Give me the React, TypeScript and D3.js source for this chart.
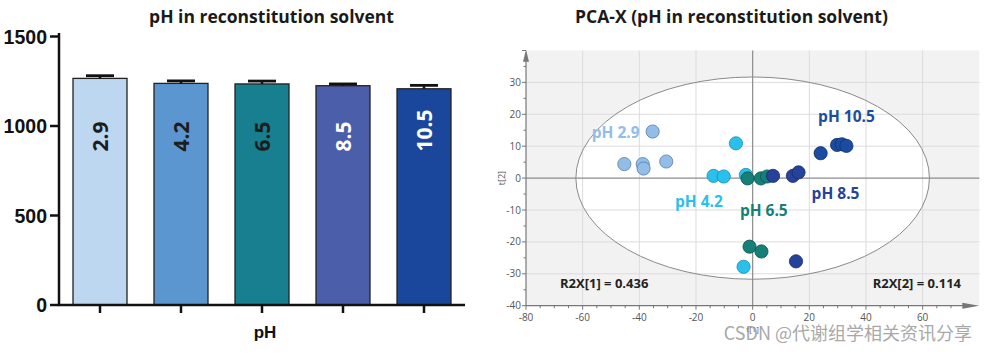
import React from 'react';
import { scaleBand, scaleLinear, range } from 'd3';

// bar chart data
const phLevels = ['2.9', '4.2', '6.5', '8.5', '10.5'];
const meanValues = [1266, 1238, 1235, 1225, 1208];
const errorValues = [15, 14, 16, 10, 19];
const barColors = ['#bcd7ef', '#5b96d1', '#177f8f', '#4a5ea9', '#1a479c'];
const labelColors = ['#1d1d1d', '#1d1d1d', '#1d1d1d', '#ffffff', '#ffffff'];
const barTicks = [0, 500, 1000, 1500];

// PCA scores (t[1], t[2])
const ph29 = [[-35.3, 14.6], [-45.3, 4.4], [-38.8, 4.4], [-38.5, 3.0], [-30.5, 5.2]];
const ph42 = [[-5.9, 10.9], [-13.8, 0.7], [-10.2, 0.5], [-2.4, 1.0], [-3.2, -27.8]];
const ph65 = [[-1.8, -0.1], [2.9, -0.1], [5.1, 0.5], [-1.1, -21.5], [3.1, -23.0]];
const ph85 = [[7.2, 0.7], [14.2, 0.7], [16.2, 1.8], [15.3, -26.1]];
const ph105 = [[24.0, 7.8], [29.8, 10.4], [31.5, 10.6], [33.1, 10.1]];
const pcaGroups = [
  { name: 'pH 2.9', pts: ph29, fill: '#92bde6', stroke: '#5a7fa8', lx: -56.8, ly: 14.4 },
  { name: 'pH 4.2', pts: ph42, fill: '#2ac0ee', stroke: '#1a8cb0', lx: -27.4, ly: -7.4 },
  { name: 'pH 6.5', pts: ph65, fill: '#157f78', stroke: '#0d5550', lx: -4.5, ly: -10.1 },
  { name: 'pH 8.5', pts: ph85, fill: '#26429a', stroke: '#162a6a', lx: 20.8, ly: -4.8 },
  { name: 'pH 10.5', pts: ph105, fill: '#1c4c9f', stroke: '#10306e', lx: 23.1, ly: 19.2 },
];
const pcaXTicks = [-80, -60, -40, -20, 0, 20, 40, 60];
const pcaYTicks = [-40, -30, -20, -10, 0, 10, 20, 30];

const BarPanel = () => {
  const x = scaleBand().domain(phLevels).range([59.5, 464.5]).paddingInner(1 / 3).paddingOuter(1 / 6);
  const y = scaleLinear().domain([0, 1500]).range([305, 36.5]);
  const bw = x.bandwidth();
  return (
    <g>
      <text x={271.5} y={22.5} textAnchor="middle" fontFamily="Open Sans" fontWeight="bold" fontSize={17.5} fill="#1a1a1a">
        pH in reconstitution solvent
      </text>
      {phLevels.map((c, i) => {
        const cx = x(c)! + bw / 2;
        return (
          <g key={c}>
            <rect x={x(c)} y={y(meanValues[i])} width={bw} height={y(0) - y(meanValues[i])} fill={barColors[i]} stroke="#222" strokeWidth={1.3} />
            <line x1={cx} x2={cx} y1={y(meanValues[i])} y2={y(meanValues[i] + errorValues[i])} stroke="#111" strokeWidth={2.5} />
            <line x1={cx - 14} x2={cx + 14} y1={y(meanValues[i] + errorValues[i])} y2={y(meanValues[i] + errorValues[i])} stroke="#111" strokeWidth={2.8} />
            <text transform={`translate(${cx},151.5) rotate(-90)`} dy="0.36em" fontFamily="Open Sans" fontWeight="bold" fontSize={21} fill={labelColors[i]}>
              {c}
            </text>
            <line x1={cx} x2={cx} y1={305} y2={313} stroke="#111" strokeWidth={2.5} />
          </g>
        );
      })}
      <line x1={59} x2={59} y1={33} y2={306} stroke="#111" strokeWidth={2.5} />
      <line x1={58} x2={465} y1={305} y2={305} stroke="#111" strokeWidth={2.5} />
      {barTicks.map(t => (
        <g key={t}>
          <line x1={50} x2={59} y1={y(t)} y2={y(t)} stroke="#111" strokeWidth={2.5} />
          <text x={47} y={y(t)} dy="0.36em" textAnchor="end" fontFamily="Liberation Sans" fontWeight="bold" fontSize={19.5} fill="#111">
            {t}
          </text>
        </g>
      ))}
      <text x={265} y={338} textAnchor="middle" fontFamily="Liberation Sans" fontWeight="bold" fontSize={17} fill="#111">
        pH
      </text>
    </g>
  );
};

const PcaPanel = () => {
  const x = scaleLinear().domain([-80, 80]).range([526, 979.3]);
  const y = scaleLinear().domain([-40, 40]).range([305.7, 50.5]);
  const minorX = range(-80, 76, 5);
  const minorY = range(-40, 41, 5);
  return (
    <g>
      <text x={731.5} y={22.5} textAnchor="middle" fontFamily="Open Sans" fontWeight="bold" fontSize={17.5} fill="#1a1a1a">
        PCA-X (pH in reconstitution solvent)
      </text>
      <rect x={x(-80)} y={y(40)} width={x(80) - x(-80)} height={y(-40) - y(40)} fill="#f2f2f2" />
      <ellipse cx={x(0)} cy={y(0)} rx={x(62.4) - x(0)} ry={y(0) - y(31.7)} fill="#ffffff" />
      {pcaXTicks.filter(t => t !== -80 && t !== 0).map(t => (
        <line key={'gx' + t} x1={x(t)} x2={x(t)} y1={y(40)} y2={y(-40)} stroke="#dcdcdc" strokeWidth={1} />
      ))}
      {pcaYTicks.filter(t => t !== -40 && t !== 0).map(t => (
        <line key={'gy' + t} x1={x(-80)} x2={x(80)} y1={y(t)} y2={y(t)} stroke="#dcdcdc" strokeWidth={1} />
      ))}
      <ellipse cx={x(0)} cy={y(0)} rx={x(62.4) - x(0)} ry={y(0) - y(31.7)} fill="none" stroke="#8a8a8a" strokeWidth={1} />
      <line x1={x(0)} x2={x(0)} y1={y(40)} y2={y(-40)} stroke="#8c8c8c" strokeWidth={1.2} />
      <line x1={x(-80)} x2={x(80)} y1={y(0)} y2={y(0)} stroke="#8c8c8c" strokeWidth={1.2} />
      {/* axes */}
      <line x1={x(-80)} x2={x(-80)} y1={y(-40)} y2={y(38)} stroke="#777" strokeWidth={1.2} />
      <path d={`M${x(-80) - 3},${y(36.5)} L${x(-80)},${y(40.3)} L${x(-80) + 3},${y(36.5)} Z`} fill="#777" />
      <line x1={x(-80)} x2={x(78)} y1={y(-40)} y2={y(-40)} stroke="#777" strokeWidth={1.2} />
      <path d={`M${x(74)},${y(-40) - 3} L${x(80)},${y(-40)} L${x(74)},${y(-40) + 3} Z`} fill="#777" />
      {minorX.map(t => (
        <line key={'mx' + t} x1={x(t)} x2={x(t)} y1={y(-40)} y2={y(-40) + (t % 20 === 0 ? 4 : 2.5)} stroke="#777" strokeWidth={1} />
      ))}
      {minorY.map(t => (
        <line key={'my' + t} x1={x(-80) - (t % 10 === 0 ? 4 : 2.5)} x2={x(-80)} y1={y(t)} y2={y(t)} stroke="#777" strokeWidth={1} />
      ))}
      {pcaXTicks.map(t => (
        <text key={'tx' + t} x={x(t)} y={317.5} dy="0.35em" textAnchor="middle" fontFamily="Open Sans" fontSize={10} fill="#555">
          {t}
        </text>
      ))}
      {pcaYTicks.map(t => (
        <text key={'ty' + t} x={521} y={y(t)} dy="0.35em" textAnchor="end" fontFamily="Open Sans" fontSize={10} fill="#555">
          {t}
        </text>
      ))}
      <text transform={`translate(502,${y(0)}) rotate(-90)`} dy="0.35em" textAnchor="middle" fontFamily="Open Sans" fontSize={9} fill="#555">
        t[2]
      </text>
      <text x={x(0)} y={329} dy="0.35em" textAnchor="middle" fontFamily="Open Sans" fontSize={8} fill="#555">
        t[1]
      </text>
      {pcaGroups.map(g => (
        <g key={g.name}>
          {g.pts.map((p, i) => (
            <circle key={i} cx={x(p[0])} cy={y(p[1])} r={6.6} fill={g.fill} stroke={g.stroke} strokeWidth={0.8} />
          ))}
          <text x={x(g.lx)} y={y(g.ly)} dy="0.35em" fontFamily="Open Sans" fontWeight="bold" fontSize={15.5} fill={g.fill}>
            {g.name}
          </text>
        </g>
      ))}
      <text x={560} y={283.5} dy="0.35em" fontFamily="Open Sans" fontWeight="bold" fontSize={13} fill="#222">
        R2X[1] = 0.436
      </text>
      <text x={961} y={283.5} dy="0.35em" textAnchor="end" fontFamily="Open Sans" fontWeight="bold" fontSize={13} fill="#222">
        R2X[2] = 0.114
      </text>
      <text x={972} y={334} dy="0.35em" textAnchor="end" fontFamily="Noto Sans CJK SC, DejaVu Sans" fontSize={18} fill="#9a9a9a" opacity={0.85}>
        CSDN @代谢组学相关资讯分享
      </text>
    </g>
  );
};

export default function App() {
  return (
    <svg width={989} height={354} style={{ position: 'absolute', left: 0, top: 0, background: '#fff' }}>
      <rect width={989} height={354} fill="#fff" />
      <BarPanel />
      <PcaPanel />
    </svg>
  );
}
